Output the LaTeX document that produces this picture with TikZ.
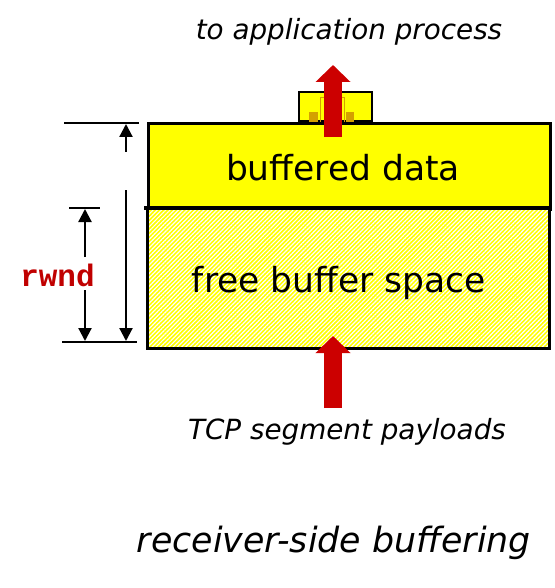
\documentclass[tikz,border=0pt]{standalone}
\usepackage{fontspec}
\setmainfont{DejaVu Sans}
\newfontfamily\codefont{Liberation Mono}
\usepackage{tikz}
\usetikzlibrary{arrows.meta, positioning, calc, patterns.meta}

\definecolor{bufyellow}{HTML}{FFFF00}
\definecolor{arrowred}{HTML}{CC0000}
\definecolor{rwndred}{HTML}{C00000}
\definecolor{appgold}{HTML}{D4A000}

\tikzset{
  bufbox/.style={draw=black, line width=2.6pt, inner sep=0pt},
  freefill/.style={preaction={fill=bufyellow},
    pattern={Lines[angle=45, distance=3pt, line width=1.2pt]}, pattern color=white},
  bigarrow/.style={arrowred, line width=18pt, -{Triangle[length=17pt, width=34pt]}},
  dimarrow/.style={line width=2.2pt, -{Triangle[length=13pt, width=13pt]}},
  tick/.style={line width=2.8pt},
  bigtext/.style={font=\fontsize{34.5}{40}\selectfont, inner sep=0pt},
  captext/.style={font=\fontsize{27.8}{32}\selectfont\itshape, inner sep=0pt}
}

\begin{document}
\begin{tikzpicture}[x=1pt, y=-1pt]
  \useasboundingbox (0,0) rectangle (554,588);

  % application side cap
  \node[bufbox, fill=bufyellow, line width=2.4pt, minimum width=73pt, minimum height=29pt,
        anchor=south west] (cap) at (298,122) {};
  \draw[appgold, line width=1.6pt] (320.5,122) |- (344.5,97.5) -- (344.5,122);
  \fill[appgold] (309,112) rectangle (318,122);
  \fill[appgold] (346,112) rectangle (354,122);

  % the buffer
  \node[bufbox, fill=bufyellow, minimum width=402pt, minimum height=86pt,
        anchor=north west] (data) at (147,122) {};
  \node[bufbox, freefill, minimum width=402pt, minimum height=140pt,
        anchor=north west] (free) at (147,208) {};
  \draw[line width=3.6pt] (144,208) -- (551,208);

  \node[bigtext] (datalbl) at (343,168) {buffered data};
  \node[bigtext] (freelbl) at (339,283) {free buffer space};

  % red arrows
  \coordinate (outfoot) at (333,137);
  \coordinate (outtip) at (333,65);
  \draw[bigarrow] (outfoot) -- (outtip);
  \coordinate (infoot) at (333,408);
  \coordinate (intip) at (333,336);
  \draw[bigarrow] (infoot) -- (intip);

  \node[captext] (applbl) at (349,32) {to application process};
  \node[captext] (tcplbl) at (347,432) {TCP segment payloads};

  % size markers
  \coordinate (topL) at (64,123);
  \coordinate (topR) at (139,123);
  \coordinate (midL) at (69,208);
  \coordinate (midR) at (100,208);
  \coordinate (botL) at (62,342);
  \coordinate (botR) at (137,342);
  \draw[tick] (topL) -- (topR);
  \draw[tick] (midL) -- (midR);
  \draw[tick] (botL) -- (botR);

  \draw[dimarrow] (126,152) -- (126,124);
  \draw[dimarrow] (126,190) -- (126,341);

  \node[font=\fontsize{31}{34}\selectfont\codefont\bfseries, text=rwndred, inner sep=0pt]
    (rwnd) at (57.5,275) {rwnd};
  \draw[dimarrow] (85,257) -- (85,209);
  \draw[dimarrow] (85,290) -- (85,341);

  \node[font=\fontsize{34.8}{40}\selectfont\itshape, inner sep=0pt] (title) at (334,543)
    {receiver-side buffering};
\end{tikzpicture}
\end{document}
